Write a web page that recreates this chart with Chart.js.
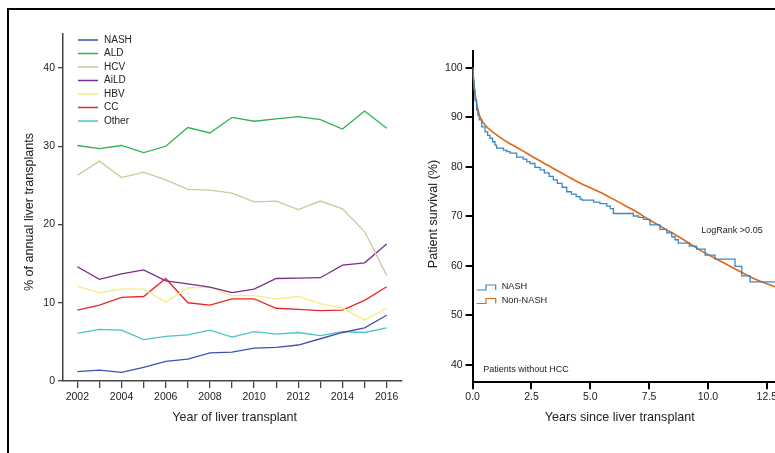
<!DOCTYPE html>
<html>
<head>
<meta charset="utf-8">
<script src="https://cdn.jsdelivr.net/npm/chart.js@4.4.1/dist/chart.umd.min.js"></script>
<style>
  html, body { margin: 0; padding: 0; background: #fff; overflow: hidden; }
  #wrap { position: relative; width: 775px; height: 453px; overflow: hidden; }
  #frame { position: absolute; left: 7px; top: 8px; width: 900px; height: 600px;
           border-left: 2px solid #000; border-top: 2px solid #000; }
  #left { position: absolute; left: 0; top: 0; }
  #right { position: absolute; left: 400px; top: 0; }
</style>
</head>
<body>
<div id="wrap">
  <div id="frame"></div>
  <canvas id="left" width="420" height="453"></canvas>
  <canvas id="right" width="420" height="453"></canvas>
</div>
<script>
// --- left panel: share of annual transplants by aetiology ---
const years = [2002, 2003, 2004, 2005, 2006, 2007, 2008, 2009, 2010, 2011, 2012, 2013, 2014, 2015, 2016];
const nash  = [1.2, 1.4, 1.1, 1.75, 2.5, 2.8, 3.6, 3.7, 4.2, 4.3, 4.6, 5.4, 6.2, 6.8, 8.4];
const ald   = [30.1, 29.7, 30.1, 29.2, 30.0, 32.4, 31.7, 33.7, 33.2, 33.5, 33.8, 33.4, 32.2, 34.5, 32.3];
const hcv   = [26.3, 28.1, 26.0, 26.7, 25.7, 24.5, 24.4, 24.0, 22.9, 23.0, 21.9, 23.0, 22.0, 19.1, 13.5];
const aild  = [14.6, 13.0, 13.7, 14.2, 12.8, 12.4, 12.0, 11.3, 11.75, 13.1, 13.15, 13.2, 14.8, 15.1, 17.5];
const hbv   = [12.1, 11.3, 11.75, 11.75, 10.1, 11.9, 12.0, 10.9, 10.9, 10.5, 10.8, 9.9, 9.3, 7.8, 9.3];
const cc    = [9.07, 9.7, 10.7, 10.8, 13.1, 10.0, 9.7, 10.5, 10.5, 9.3, 9.15, 9.0, 9.07, 10.3, 12.05];
const other = [6.1, 6.6, 6.5, 5.3, 5.7, 5.9, 6.5, 5.6, 6.3, 6.0, 6.2, 5.8, 6.3, 6.2, 6.8];
const leftYTicks = [0, 10, 20, 30, 40];

// --- right panel: Kaplan-Meier survival, patients without HCC ---
const nashT = [0, 0.02, 0.06, 0.1, 0.17, 0.22, 0.28, 0.39, 0.53, 0.64, 0.74, 0.85, 0.95, 1.02, 1.31, 1.45, 1.59,
               1.87, 2.15, 2.3, 2.44, 2.65, 2.87, 3.05, 3.25, 3.43, 3.6, 3.8, 4.0, 4.2, 4.4, 4.57, 4.65, 5.14,
               5.41, 5.7, 5.85, 5.98, 6.83, 7.05, 7.26, 7.54, 7.96, 8.25, 8.46, 8.6, 8.74, 9.21, 9.52, 9.88,
               10.3, 11.15, 11.44, 11.79, 13.7];
const nashS = [100, 97.5, 95.6, 93.5, 91.5, 90.5, 89.5, 88.1, 87.1, 86.4, 85.8, 85.1, 84.4, 83.8, 83.4, 83.1, 82.8,
               82.0, 81.6, 81.1, 80.7, 79.9, 79.4, 78.8, 78.1, 77.4, 76.7, 75.9, 75.0, 74.5, 74.0, 73.5, 73.3, 72.9,
               72.6, 72.1, 71.6, 70.6, 70.1, 69.8, 69.4, 68.3, 67.4, 66.7, 65.9, 65.3, 64.6, 64.0, 63.4, 62.2,
               61.4, 59.9, 58.0, 56.8, 56.8];
const nonT = [0, 0.05, 0.1, 0.17, 0.31, 0.53, 0.74, 1.02, 1.45, 2.01, 2.72, 3.36, 4.0, 4.71, 5.42, 6.13, 6.83,
              7.55, 8.25, 8.97, 9.67, 10.4, 11.08, 12.07, 12.85, 13.7];
const nonS = [100, 97.3, 94.9, 92.9, 90.2, 88.5, 87.5, 86.5, 85.1, 83.6, 81.6, 79.9, 78.2, 76.4, 74.9, 73.1, 71.3,
              69.2, 67.3, 65.3, 63.2, 61.3, 59.6, 57.2, 55.8, 54.6];
const rightXTicks = [0, 2.5, 5, 7.5, 10, 12.5];
const rightYTicks = [40, 50, 60, 70, 80, 90, 100];

const FONT = "'Liberation Sans', Arial, Helvetica, sans-serif";
const INK = '#222';

function pts(xs, ys) { return xs.map((x, i) => ({ x: x, y: ys[i] })); }

function text(ctx, str, x, y, size, align, rot) {
  ctx.save();
  ctx.translate(x, y);
  if (rot) ctx.rotate(rot);
  ctx.font = size + 'px ' + FONT;
  ctx.fillStyle = INK;
  ctx.textAlign = align || 'center';
  ctx.textBaseline = 'middle';
  ctx.fillText(str, 0, 0);
  ctx.restore();
}

// left chart
const leftSeries = [
  { label: 'NASH',  data: nash,  color: '#3f51b5' },
  { label: 'ALD',   data: ald,   color: '#2db34a' },
  { label: 'HCV',   data: hcv,   color: '#c9c99b' },
  { label: 'AiLD',  data: aild,  color: '#7b2d8b' },
  { label: 'HBV',   data: hbv,   color: '#f5ec7c' },
  { label: 'CC',    data: cc,    color: '#e8262a' },
  { label: 'Other', data: other, color: '#4cc3c8' }
];

const leftDecor = {
  id: 'leftDecor',
  afterDraw(chart) {
    const ctx = chart.ctx, a = chart.chartArea;
    leftSeries.forEach((s, i) => {
      const y = 40 + i * 13.5;
      ctx.save();
      ctx.strokeStyle = s.color;
      ctx.lineWidth = 1.5;
      ctx.beginPath();
      ctx.moveTo(a.left + 15, y);
      ctx.lineTo(a.left + 35, y);
      ctx.stroke();
      ctx.restore();
      text(ctx, s.label, a.left + 41, y, 10, 'left');
    });
    text(ctx, 'Year of liver transplant', 234.7, 418, 12.6);
    text(ctx, '% of annual liver transplants', 30, 212, 12.6, 'center', -Math.PI / 2);
  }
};

new Chart(document.getElementById('left'), {
  type: 'line',
  data: {
    datasets: leftSeries.map(s => ({
      label: s.label,
      data: pts(years, s.data),
      borderColor: s.color,
      backgroundColor: s.color,
      borderWidth: 1.3,
      pointRadius: 0,
      tension: 0
    }))
  },
  options: {
    responsive: false,
    animation: false,
    devicePixelRatio: 1,
    layout: { padding: { left: 0, top: 34, right: 18.3, bottom: 0 } },
    plugins: { legend: { display: false }, tooltip: { enabled: false } },
    scales: {
      x: {
        type: 'linear', min: 2001.35, max: 2016.68,
        afterBuildTicks: s => { s.ticks = years.map(v => ({ value: v })); },
        afterFit: s => { s.height = 72; },
        grid: { drawOnChartArea: false, tickLength: 7, color: '#444', lineWidth: 1.3 },
        border: { display: true, color: '#444', width: 1.5 },
        ticks: {
          autoSkip: false, maxRotation: 0, padding: 3, color: INK,
          font: { family: FONT, size: 10.5 },
          callback: v => (v % 2 === 0 ? String(v) : '')
        }
      },
      y: {
        type: 'linear', min: 0, max: 44.35,
        afterBuildTicks: s => { s.ticks = leftYTicks.map(v => ({ value: v })); },
        afterFit: s => { s.width = 63; },
        grid: { drawOnChartArea: false, tickLength: 5, color: '#444', lineWidth: 1.3 },
        border: { display: true, color: '#444', width: 1.5 },
        ticks: { padding: 3, color: INK, font: { family: FONT, size: 10.5 }, callback: v => String(v) }
      }
    }
  },
  plugins: [leftDecor]
});

// right chart
const NASH_BLUE = '#3a88c8';
const NON_ORANGE = '#df6812';

function stepIcon(ctx, x, cy, color) {
  ctx.save();
  ctx.strokeStyle = color;
  ctx.lineWidth = 1.2;
  ctx.beginPath();
  ctx.moveTo(x, cy + 3.3);
  ctx.lineTo(x + 9.3, cy + 3.3);
  ctx.lineTo(x + 9.3, cy - 1.7);
  ctx.lineTo(x + 19, cy - 1.7);
  ctx.lineTo(x + 19, cy + 3.3);
  ctx.stroke();
  ctx.restore();
}

const rightDecor = {
  id: 'rightDecor',
  afterDraw(chart) {
    const ctx = chart.ctx, sx = chart.scales.x, sy = chart.scales.y;
    stepIcon(ctx, 76.7, 286.7, NASH_BLUE);
    text(ctx, 'NASH', 101.7, 286.7, 9.2, 'left');
    stepIcon(ctx, 76.7, 300.2, NON_ORANGE);
    text(ctx, 'Non-NASH', 101.7, 300.2, 9.2, 'left');
    text(ctx, 'LogRank >0.05', sx.getPixelForValue(9.72), sy.getPixelForValue(67.1), 9, 'left');
    text(ctx, 'Patients without HCC', sx.getPixelForValue(0.45), sy.getPixelForValue(39.0), 9, 'left');
    text(ctx, 'Years since liver transplant', 219.7, 418, 12.6);
    text(ctx, 'Patient survival (%)', 34, 214, 12.6, 'center', -Math.PI / 2);
  }
};

new Chart(document.getElementById('right'), {
  type: 'line',
  data: {
    datasets: [
      {
        label: 'NASH',
        data: pts(nashT, nashS),
        borderColor: NASH_BLUE,
        borderWidth: 1.3,
        pointRadius: 0,
        stepped: true
      },
      {
        label: 'Non-NASH',
        data: pts(nonT, nonS),
        borderColor: NON_ORANGE,
        borderWidth: 1.6,
        pointRadius: 0,
        cubicInterpolationMode: 'monotone'
      }
    ]
  },
  options: {
    responsive: false,
    animation: false,
    devicePixelRatio: 1,
    layout: { padding: { left: 0, top: 51, right: 25, bottom: 0 } },
    plugins: { legend: { display: false }, tooltip: { enabled: false } },
    scales: {
      x: {
        type: 'linear', min: 0, max: 13.7,
        afterBuildTicks: s => { s.ticks = rightXTicks.map(v => ({ value: v })); },
        afterFit: s => { s.height = 70.7; },
        grid: { drawOnChartArea: false, tickLength: 7, color: '#000', lineWidth: 2 },
        border: { display: true, color: '#000', width: 2 },
        ticks: {
          autoSkip: false, maxRotation: 0, padding: 2, color: INK,
          font: { family: FONT, size: 10.5 },
          callback: v => v.toFixed(1)
        }
      },
      y: {
        type: 'linear', min: 36.5, max: 103.43,
        afterBuildTicks: s => { s.ticks = rightYTicks.map(v => ({ value: v })); },
        afterFit: s => { s.width = 72.6; },
        grid: { drawOnChartArea: false, tickLength: 7, color: '#000', lineWidth: 2 },
        border: { display: true, color: '#000', width: 2 },
        ticks: { padding: 3, color: INK, font: { family: FONT, size: 10.5 }, callback: v => String(v) }
      }
    }
  },
  plugins: [rightDecor]
});
</script>
</body>
</html>
